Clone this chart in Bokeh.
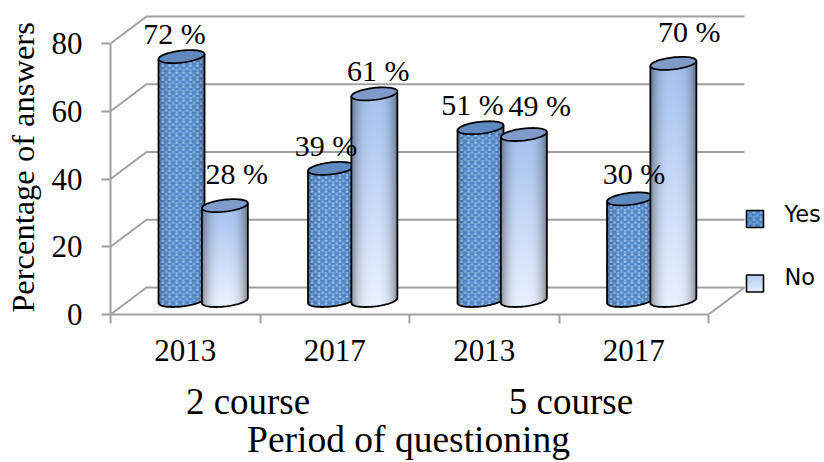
import numpy as np
from bokeh.plotting import figure
from bokeh.models import LinearAxis, FixedTicker, ColumnDataSource
from bokeh.core.properties import value
from bokeh.embed import file_html
from bokeh.resources import INLINE

# ---- data
years = ["2013", "2017", "2013", "2017"]
groups = ["2 course", "5 course"]
yes_values = [72, 39, 51, 30]
no_values = [28, 61, 49, 70]
y_ticks = [0, 20, 40, 60, 80]
series_names = ["Yes", "No"]
x_title = "Period of questioning"
y_title = "Percentage of answers"

# ---- label nudges, in screen pixels
yes_label_dx = [-7, -5, -8, 4]
yes_label_dy = [-23, -23, -23, -25]
no_label_dx = [12, 4, 16, 16]
no_label_dy = [-32, -23, -29, -32]

# ---- geometry
PX_X, PX_Y = 149.5, 3.3875
FRAME_W, FRAME_H = 714, 306
PY = PX_Y
BASE = 4.13          # raised floor position of cylinders, value units
DEPTH_X, DEPTH_Y = 36 / PX_X, 27 / PX_Y
YES_POS, NO_POS = 0.475, 0.765
A, B, TILT = 23.0, 6.0, 2.5   # ellipse semi axes and tilt, pixels
GREY = "#a0a0a0"
SERIF = "Liberation Serif"

p = figure(width=824, height=462, output_backend="svg", toolbar_location=None,
           x_range=(0, FRAME_W / PX_X), y_range=(0, FRAME_H / PX_Y),
           min_border_left=110, min_border_right=0, min_border_top=8, min_border_bottom=148,
           outline_line_color=None, background_fill_color="white", x_axis_type=None, y_axis_type=None)
p.grid.visible = False


def title_axis(ticks, overrides, size, standoff, **kw):
    ax = LinearAxis(ticker=FixedTicker(ticks=ticks), major_label_overrides=overrides, **kw)
    ax.axis_line_color = None; ax.major_tick_line_color = None; ax.minor_tick_line_color = None
    ax.major_tick_out = 0; ax.major_tick_in = 0
    ax.major_label_text_font = SERIF; ax.major_label_text_font_size = size; ax.major_label_text_color = "black"
    ax.major_label_standoff = standoff
    return ax


# ---- axes
yax = LinearAxis(ticker=FixedTicker(ticks=y_ticks), bounds=(0, 80))
yax.axis_line_color = GREY; yax.axis_line_width = 2
yax.major_tick_line_color = GREY; yax.major_tick_line_width = 2
yax.major_tick_in = 0; yax.major_tick_out = 9; yax.minor_tick_line_color = None
yax.major_label_text_font = SERIF; yax.major_label_text_font_size = "31px"; yax.major_label_text_color = "black"
yax.major_label_standoff = 19
p.add_layout(yax, "left")

ytitle_pos = (314 - 167) / PX_Y
yt = title_axis([ytitle_pos], {ytitle_pos: y_title}, "32.5px", 8, major_label_orientation="vertical")
p.add_layout(yt, "left")

centers = [i + 0.5 for i in range(len(years))]
xax = LinearAxis(ticker=FixedTicker(ticks=centers, minor_ticks=list(range(len(years) + 1))), bounds=(0, len(years)),
                 major_label_overrides={c: y for c, y in zip(centers, years)})
xax.axis_line_color = GREY; xax.axis_line_width = 2
xax.major_tick_line_color = None; xax.major_tick_in = 0; xax.major_tick_out = 8
xax.minor_tick_line_color = GREY; xax.minor_tick_line_width = 2; xax.minor_tick_in = 0; xax.minor_tick_out = 9
xax.major_label_text_font = SERIF; xax.major_label_text_font_size = "31px"; xax.major_label_text_color = "black"
xax.major_label_standoff = 16
p.add_layout(xax, "below")

gpos = [0.92, 3.08]
p.add_layout(title_axis(gpos, {c: g for c, g in zip(gpos, groups)}, "37px", 17), "below")

xtitle_pos = (408 - 110) / PX_X
p.add_layout(title_axis([xtitle_pos], {xtitle_pos: x_title}, "37.5px", -6), "below")

# ---- 3D walls
n = len(years)
for t in y_ticks:
    p.line([0, DEPTH_X, n + DEPTH_X], [t, t + DEPTH_Y, t + DEPTH_Y], line_color=GREY, line_width=2)
p.line([n, n + DEPTH_X], [0, DEPTH_Y], line_color=GREY, line_width=2)


def to_uint32(rgb, alpha):
    a = np.dstack([np.clip(rgb, 0, 255), alpha * 255.0]).round().astype(np.uint8)
    return a.view(np.uint32).reshape(a.shape[:2])


def dots(xx, yy):
    dx, dy = 7.0, 3.5
    row = np.floor(yy / dy)
    xs = xx + (row % 2) * dx / 2
    ex = ((xs + dx / 2) % dx) - dx / 2
    ey = ((yy + dy / 2) % dy) - dy / 2
    return np.exp(-(ex ** 2 + ey ** 2) / 1.3)


def cylinder(cx, val, kind):
    h = val * PX_Y
    pad_b, pad_t = int(B + TILT + 1), int(B + TILT + 1)
    H = int(round(h)) + pad_b + pad_t
    W = int(2 * A)
    jj, ii = np.mgrid[0:H, 0:W]
    yy = jj + 0.5 - pad_b
    u = (ii + 0.5 - A) / A
    low = -B * np.sqrt(np.clip(1 - u ** 2, 0, 1)) + TILT * u
    up = h + TILT * u
    alpha = ((yy >= low) & (yy <= up)).astype(float)
    t = np.clip(yy / h, 0, 1)[..., None]
    edge = np.abs(u)[..., None]
    if kind == "yes":
        base = np.array([80, 136, 202.0])
        shade = 1 - 0.28 * edge ** 4
        rgb = base * shade
        d = dots(ii + 0.0, yy)[..., None]
        rgb = rgb * (1 - d) + np.array([232, 240, 250.0]) * d
    else:
        top = np.array([164, 193, 238.0])
        bot = np.array([232, 240, 255.0])
        rgb = top * t + bot * (1 - t)
        shade = 1 - 0.42 * edge ** 3
        rgb = rgb * shade
    img = to_uint32(rgb, alpha)
    p.image_rgba(image=[img], x=[cx - A / PX_X], y=[BASE - pad_b / PX_Y], dw=[W / PX_X], dh=[H / PX_Y])
    th = np.linspace(np.pi, 2 * np.pi, 40)
    ax_ = cx + A / PX_X * np.cos(th)
    ay_ = BASE + (B * np.sin(th) + TILT * np.cos(th)) / PY
    top_y = BASE + val
    xs = [cx - A / PX_X] + list(ax_) + [cx + A / PX_X]
    ys = [top_y - TILT / PY] + list(ay_) + [top_y + TILT / PY]
    p.line(xs, ys, line_color="black", line_width=1.8)
    th2 = np.linspace(0, 2 * np.pi, 60)
    ex = cx + A / PX_X * np.cos(th2)
    ey = top_y + (B * np.sin(th2) + TILT * np.cos(th2)) / PY
    p.patch(ex, ey, fill_color="#5f8ac0" if kind == "yes" else "#7f9bc9", line_color="black", line_width=1.8)


for i in range(n):
    cylinder(i + YES_POS, yes_values[i], "yes")
    cylinder(i + NO_POS, no_values[i], "no")

# ---- data labels
lab = ColumnDataSource(dict(
    x=[i + YES_POS for i in range(n)] + [i + NO_POS for i in range(n)],
    y=[BASE + v for v in yes_values] + [BASE + v for v in no_values],
    text=[f"{v} %" for v in yes_values] + [f"{v} %" for v in no_values],
    dx=yes_label_dx + no_label_dx,
    dy=yes_label_dy + no_label_dy,
))
p.text(x="x", y="y", text="text", x_offset="dx", y_offset="dy", source=lab, text_font=value(SERIF),
       text_font_size="30px", text_color="black", text_align="center", text_baseline="alphabetic")

# ---- legend
LX = 754.5
def legend_square(cy_px, kind):
    S = 17
    jj, ii = np.mgrid[0:S, 0:S]
    if kind == "yes":
        d = dots(ii + 0.0, jj + 0.0)[..., None]
        rgb = np.array([72, 128, 196.0]) * (1 - d) + np.array([200, 218, 240.0]) * d
    else:
        t = (jj / S)[..., None]
        rgb = np.array([225, 235, 252.0]) * (1 - t) + np.array([180, 202, 238.0]) * t
    xc = (LX - 110) / PX_X
    yc = (314 - cy_px) / PX_Y
    p.image_rgba(image=[to_uint32(rgb, np.ones((S, S)))], x=[xc - S / 2 / PX_X], y=[yc - S / 2 / PX_Y], dw=[S / PX_X], dh=[S / PX_Y])
    p.rect(x=[xc], y=[yc], width=S / PX_X, height=S / PX_Y, fill_color=None, line_color="black", line_width=1.6)

for name, kind, cy, ty in zip(series_names, ["yes", "no"], [218.5, 283], [213, 276]):
    legend_square(cy, kind)
    p.text(x=[(784 - 110) / PX_X], y=[(314 - ty) / PX_Y], text=[name], text_font=value("DejaVu Sans"),
           text_font_size="22.5px", text_color="black", text_align="left", text_baseline="middle")

open("out.html", "w").write(file_html(p, INLINE))
